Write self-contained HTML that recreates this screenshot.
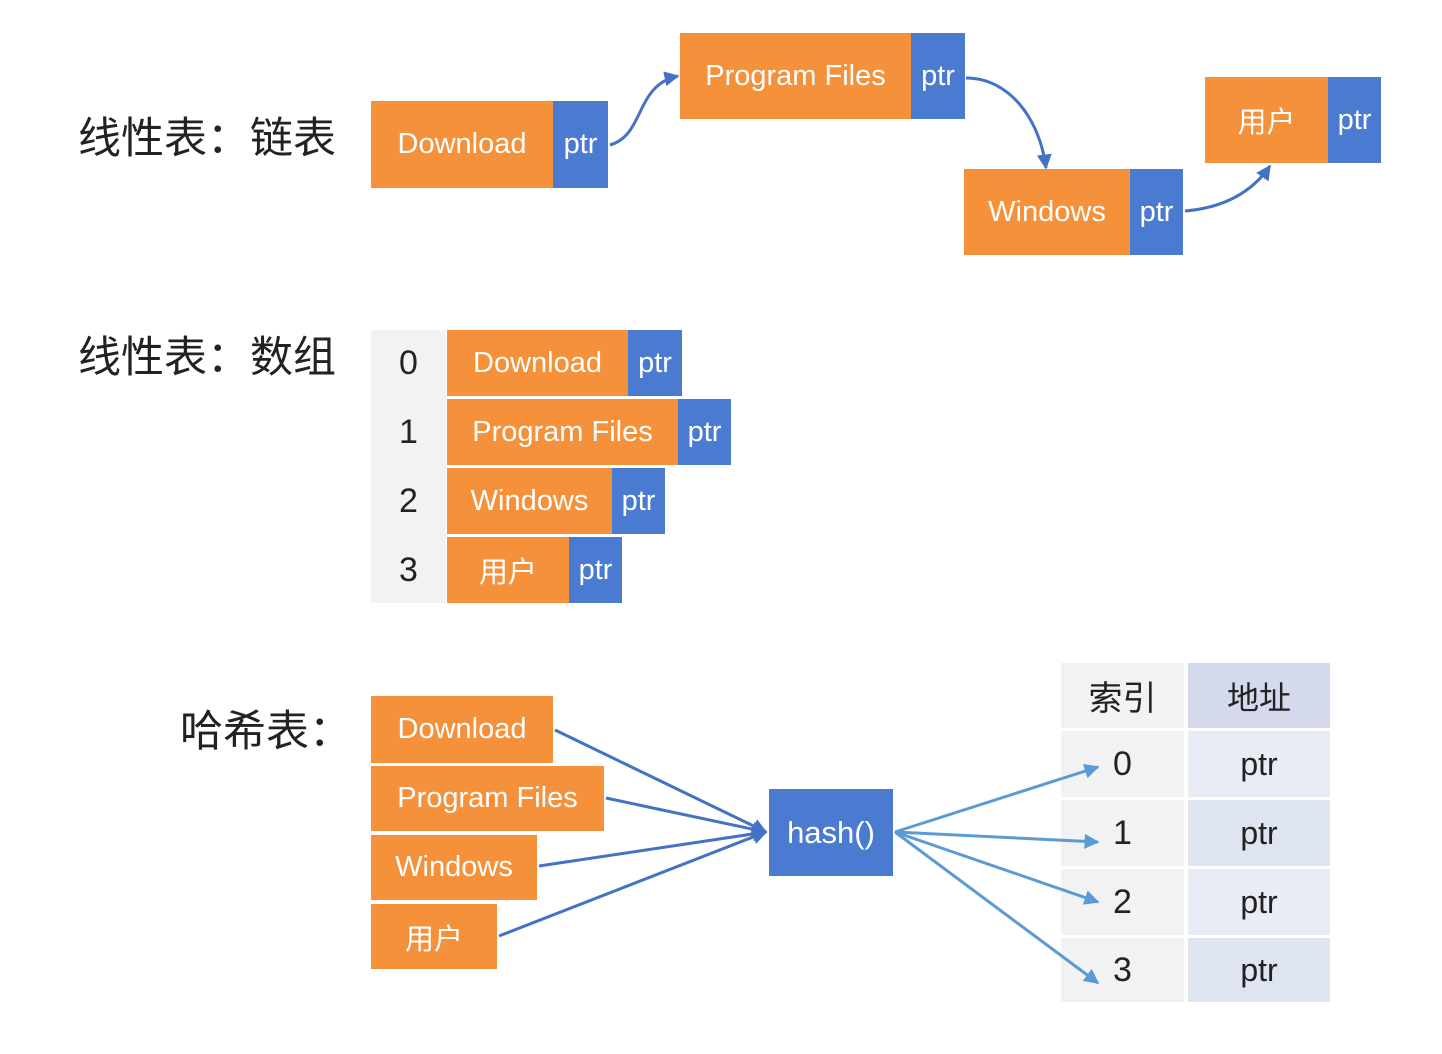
<!DOCTYPE html>
<html><head><meta charset="utf-8"><style>
body{margin:0;width:1442px;height:1054px;background:#fff;position:relative;overflow:hidden;font-family:"Liberation Sans","Noto Sans CJK SC",sans-serif}
.b{position:absolute;display:flex;align-items:center;justify-content:center;color:#fff;font-size:29px}
.o{background:#f4913a}.u{background:#4a7bd0}
.t{position:absolute;font-size:43px;color:#222;line-height:1}
.g{background:#f2f2f2;color:#222;font-size:34px}
.l{background:#dfe4f1;color:#222;font-size:32px}
</style></head><body>
<div class="t" style="left:78px;top:118px">线性表：链表</div>
<div class="t" style="left:78px;top:337px">线性表：数组</div>
<div class="t" style="left:180px;top:711px">哈希表：</div>

<div class="b o" style="left:371px;top:101px;width:182px;height:87px">Download</div>
<div class="b u" style="left:553px;top:101px;width:55px;height:87px">ptr</div>
<div class="b o" style="left:680px;top:33px;width:231px;height:86px">Program Files</div>
<div class="b u" style="left:911px;top:33px;width:54px;height:86px">ptr</div>
<div class="b o" style="left:964px;top:169px;width:166px;height:86px">Windows</div>
<div class="b u" style="left:1130px;top:169px;width:53px;height:86px">ptr</div>
<div class="b o" style="left:1205px;top:77px;width:123px;height:86px">用户</div>
<div class="b u" style="left:1328px;top:77px;width:53px;height:86px">ptr</div>

<div class="b g" style="left:371px;top:330px;width:75px;height:273px"></div>
<div class="b" style="left:371px;top:330px;width:75px;height:66px;color:#222;font-size:34px">0</div>
<div class="b" style="left:371px;top:399px;width:75px;height:66px;color:#222;font-size:34px">1</div>
<div class="b" style="left:371px;top:468px;width:75px;height:66px;color:#222;font-size:34px">2</div>
<div class="b" style="left:371px;top:537px;width:75px;height:66px;color:#222;font-size:34px">3</div>
<div class="b o" style="left:447px;top:330px;width:181px;height:66px">Download</div>
<div class="b u" style="left:628px;top:330px;width:54px;height:66px">ptr</div>
<div class="b o" style="left:447px;top:399px;width:231px;height:66px">Program Files</div>
<div class="b u" style="left:678px;top:399px;width:53px;height:66px">ptr</div>
<div class="b o" style="left:447px;top:468px;width:165px;height:66px">Windows</div>
<div class="b u" style="left:612px;top:468px;width:53px;height:66px">ptr</div>
<div class="b o" style="left:447px;top:537px;width:122px;height:66px">用户</div>
<div class="b u" style="left:569px;top:537px;width:53px;height:66px">ptr</div>

<div class="b o" style="left:371px;top:696px;width:182px;height:67px">Download</div>
<div class="b o" style="left:371px;top:766px;width:233px;height:65px">Program Files</div>
<div class="b o" style="left:371px;top:835px;width:166px;height:65px">Windows</div>
<div class="b o" style="left:371px;top:904px;width:126px;height:65px">用户</div>
<div class="b u" style="left:769px;top:789px;width:124px;height:87px;font-size:31px">hash()</div>

<div class="b g" style="left:1061px;top:663px;width:123px;height:65px">索引</div>
<div class="b l" style="left:1188px;top:663px;width:142px;height:65px;background:#d4daec">地址</div>
<div class="b g" style="left:1061px;top:731px;width:123px;height:66px">0</div>
<div class="b l" style="left:1188px;top:731px;width:142px;height:66px;background:#e9ecf5">ptr</div>
<div class="b g" style="left:1061px;top:800px;width:123px;height:66px">1</div>
<div class="b l" style="left:1188px;top:800px;width:142px;height:66px">ptr</div>
<div class="b g" style="left:1061px;top:869px;width:123px;height:66px">2</div>
<div class="b l" style="left:1188px;top:869px;width:142px;height:66px;background:#e9ecf5">ptr</div>
<div class="b g" style="left:1061px;top:938px;width:123px;height:64px">3</div>
<div class="b l" style="left:1188px;top:938px;width:142px;height:64px">ptr</div>

<svg width="1442" height="1054" style="position:absolute;left:0;top:0">
<defs>
<marker id="a" viewBox="0 0 10 10" refX="9" refY="5" markerWidth="5" markerHeight="5" orient="auto"><path d="M0,0L10,5L0,10z" fill="#4472c4"/></marker>
<marker id="c" viewBox="0 0 10 10" refX="9" refY="5" markerWidth="5" markerHeight="5" orient="auto"><path d="M0,0L10,5L0,10z" fill="#5b9bd5"/></marker>
</defs>
<g fill="none" stroke="#4472c4" stroke-width="3">
<path d="M610,145 C645,135 635,85 678,76" marker-end="url(#a)"/>
<path d="M966,78 C1010,78 1040,120 1046,168" marker-end="url(#a)"/>
<path d="M1185,211 C1220,208 1250,195 1270,166" marker-end="url(#a)"/>
<path d="M555,730 L766,832" marker-end="url(#a)"/>
<path d="M606,798 L766,832" marker-end="url(#a)"/>
<path d="M539,866 L766,832" marker-end="url(#a)"/>
<path d="M499,936 L766,832" marker-end="url(#a)"/>
</g>
<g fill="none" stroke="#5b9bd5" stroke-width="3">
<path d="M895,832 L1098,767" marker-end="url(#c)"/>
<path d="M895,832 L1098,842" marker-end="url(#c)"/>
<path d="M895,832 L1098,902" marker-end="url(#c)"/>
<path d="M895,832 L1098,983" marker-end="url(#c)"/>
</g>
</svg>
</body></html>
